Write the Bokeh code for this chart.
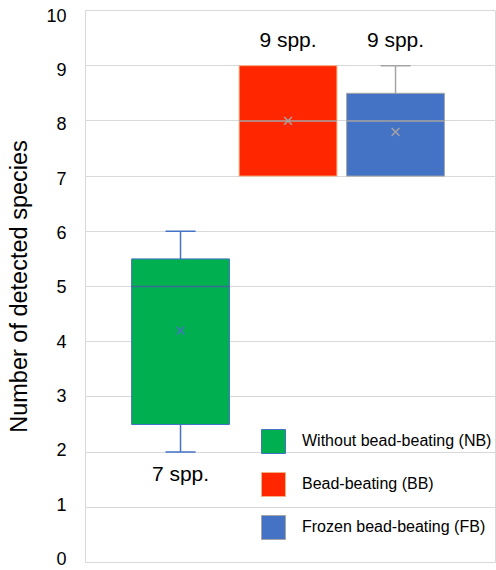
import numpy as np
from bokeh.plotting import figure
from bokeh.models import Range1d, FixedTicker, Legend, LegendItem
from bokeh.core.properties import value
from bokeh.embed import file_html
from bokeh.resources import INLINE

# ---- data ----
groups = ["Without bead-beating (NB)", "Bead-beating (BB)", "Frozen bead-beating (FB)"]
mins = [2.0, 7.0, 7.0]
q1 = [2.5, 7.0, 7.0]
medians = [5.0, 8.0, 8.0]
q3 = [5.5, 9.0, 8.5]
maxs = [6.0, 9.0, 9.0]
means = [4.2, 8.0, 7.8]
species = [7, 9, 9]
y_ticks = [0, 1, 2, 3, 4, 5, 6, 7, 8, 9, 10]

# ---- styles ----
fills = ["#00B050", "#FF2600", "#4472C4"]
box_lines = ["#4472C4", "#F4B183", "#A5A5A5"]
whisk_cols = ["#4472C4", "#ED7D31", "#A5A5A5"]
med_cols = ["#3A6C96", "#A5A5A5", "#A5A5A5"]
mean_cols = ["#4472C4", "#A5A5A5", "#A5A5A5"]
FONT = "Liberation Sans"

xs = np.arange(1, len(groups) + 1, dtype=float)
bw = 0.91
cap = 0.28

p = figure(width=496, height=570,
           x_range=Range1d(0.116, 3.93), y_range=Range1d(0, 10),
           output_backend="svg", toolbar_location=None,
           min_border_left=85, min_border_right=1,
           min_border_top=10, min_border_bottom=8)
p.background_fill_color = "white"
p.border_fill_color = "white"
p.outline_line_color = "#D9D9D9"
p.outline_line_width = 1

p.xaxis.visible = False
p.xgrid.visible = False
p.ygrid.grid_line_color = "#D9D9D9"
p.ygrid.grid_line_width = 1

# label axis uses a slightly different range to mimic the reference label placement
p.extra_y_ranges = {"lab": Range1d(-0.074, 10.083)}
ax = p.yaxis[0]
ax.y_range_name = "lab"
ax.ticker = FixedTicker(ticks=y_ticks)
p.ygrid.ticker = FixedTicker(ticks=y_ticks)
ax.axis_line_color = None
ax.major_tick_line_color = None
ax.minor_tick_line_color = None
ax.major_tick_out = 0
ax.major_tick_in = 0
ax.major_label_standoff = 19
ax.major_label_text_font = FONT
ax.major_label_text_font_size = "18px"
ax.major_label_text_color = "#000000"
ax.axis_label = "Number of detected species"
ax.axis_label_text_font = FONT
ax.axis_label_text_font_size = "23.5px"
ax.axis_label_text_font_style = "normal"
ax.axis_label_text_color = "#000000"
ax.axis_label_standoff = 11

# whiskers, only where they extend beyond the box
xs_a = np.asarray(xs)
mx, q3a, q1a, mn = map(np.asarray, (maxs, q3, q1, mins))
wc = np.asarray(whisk_cols)
up = mx > q3a
lo = mn < q1a
p.segment(x0=xs_a[up], y0=q3a[up], x1=xs_a[up], y1=mx[up], line_color=list(wc[up]), line_width=1.5)
p.segment(x0=xs_a[lo], y0=q1a[lo], x1=xs_a[lo], y1=mn[lo], line_color=list(wc[lo]), line_width=1.5)
p.segment(x0=xs_a[up] - cap / 2, y0=mx[up], x1=xs_a[up] + cap / 2, y1=mx[up],
          line_color=list(wc[up]), line_width=1.5)
p.segment(x0=xs_a[lo] - cap / 2, y0=mn[lo], x1=xs_a[lo] + cap / 2, y1=mn[lo],
          line_color=list(wc[lo]), line_width=1.5)

# boxes
items = []
for i, g in enumerate(groups):
    r = p.vbar(x=[xs[i]], width=bw, bottom=[q1[i]], top=[q3[i]],
               fill_color=fills[i], line_color=box_lines[i], line_width=1)
    items.append(LegendItem(label=g, renderers=[r]))

# medians and means
p.segment(x0=xs - bw / 2, y0=medians, x1=xs + bw / 2, y1=medians,
          line_color=med_cols, line_width=1.5)
p.scatter(x=xs, y=means, marker="x", size=11, line_color=mean_cols, line_width=1.5)

# species count labels
label_y = [mins[0] - 0.39] + [m + 0.48 for m in maxs[1:]]
p.text(x=xs, y=label_y, text=[f"{n} spp." for n in species],
       text_align="center", text_baseline="alphabetic",
       text_font=value(FONT), text_font_size="21px", text_color="#000000")

legend = Legend(items=items, location=(173, 20),
                glyph_width=30, glyph_height=30, label_height=30,
                spacing=13, padding=0, margin=0, label_standoff=14,
                label_text_font=FONT, label_text_font_size="16px",
                label_text_color="#000000",
                background_fill_alpha=0, border_line_alpha=0)
p.add_layout(legend)

open("out.html", "w").write(file_html(p, INLINE))
